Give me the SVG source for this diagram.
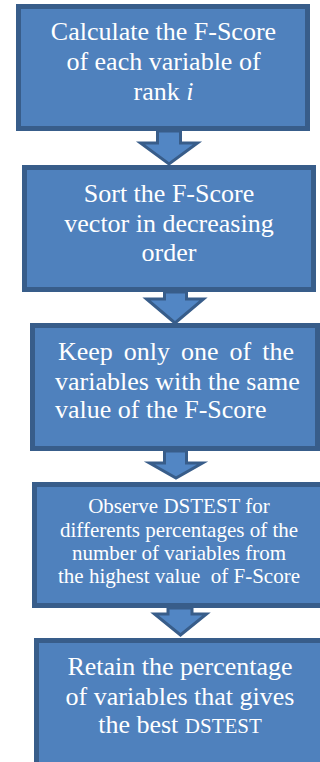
<svg xmlns="http://www.w3.org/2000/svg" width="320" height="762" viewBox="0 0 320 762">
  <style>
    .box { fill: #4f81bd; stroke: #385d8a; stroke-width: 5; }
    .arrow { fill: #5286c4; stroke: #385d8a; stroke-width: 3; stroke-linejoin: miter; }
    .t { font-family: "Liberation Serif", "Times New Roman", serif; fill: #ffffff; font-size: 26px; }
    .c { text-anchor: middle; }
    .sm { font-size: 21px; }
  </style>
  <rect width="320" height="762" fill="#ffffff"/>

  <g id="connectors">
    <path class="arrow" d="M157.5,131 V143 H140.5 L169,164 L197.5,143 H180.5 V131 Z"/>
    <path class="arrow" d="M164.5,292 V299 H146.5 L175,323 L203.5,299 H186.5 V292 Z"/>
    <path class="arrow" d="M164.5,451 V463 H149.5 L176,478 L202.5,463 H186.5 V451 Z"/>
    <path class="arrow" d="M168,608 V614 H154.5 L180.5,635 L206.5,614 H192 V608 Z"/>
  </g>

  <g id="step1">
    <rect class="box" x="18.5" y="6.5" width="289" height="122"/>
    <text class="t c" x="163.5" y="40">Calculate the F-Score</text>
    <text class="t c" x="163.5" y="70">of each variable of</text>
    <text class="t c" x="163.5" y="100">rank <tspan font-style="italic">i</tspan></text>
  </g>

  <g id="step2">
    <rect class="box" x="24.5" y="167.5" width="289" height="122"/>
    <text class="t c" x="169" y="202">Sort the F-Score</text>
    <text class="t c" x="169" y="232">vector in decreasing</text>
    <text class="t c" x="169" y="261">order</text>
  </g>

  <g id="step3">
    <rect class="box" x="32.5" y="325.5" width="285" height="123"/>
    <text class="t" x="58" y="360" word-spacing="4.5">Keep only one of the</text>
    <text class="t" x="55" y="390">variables with the same</text>
    <text class="t" x="55" y="418">value of the F-Score</text>
  </g>

  <g id="step4">
    <rect class="box" x="34.5" y="484.5" width="291" height="121"/>
    <text class="t c sm" x="179" y="513">Observe DSTEST for</text>
    <text class="t c sm" x="179" y="537">differents percentages of the</text>
    <text class="t c sm" x="179" y="560">number of variables from</text>
    <text class="t c sm" x="179" y="583" xml:space="preserve">the highest value  of F-Score</text>
  </g>

  <g id="step5">
    <rect class="box" x="36.5" y="640.5" width="291" height="130"/>
    <text class="t c" x="180" y="675">Retain the percentage</text>
    <text class="t c" x="180" y="705">of variables that gives</text>
    <text class="t c" x="180" y="733">the best <tspan class="sm">DSTEST</tspan></text>
  </g>
</svg>
